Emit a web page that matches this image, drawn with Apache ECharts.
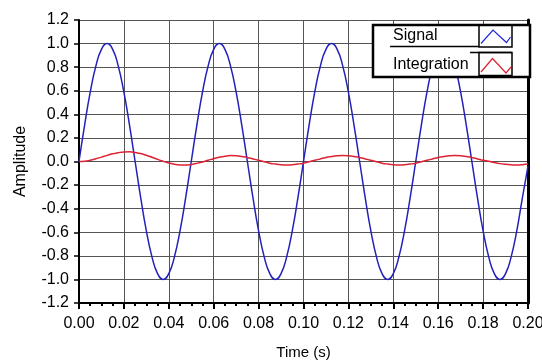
<!DOCTYPE html>
<html>
<head>
<meta charset="utf-8">
<script src="https://cdn.jsdelivr.net/npm/echarts@6/dist/echarts.min.js"></script>
<style>html,body{margin:0;padding:0;background:#fff;}#c{width:542px;height:363px;}</style>
</head>
<body>
<div id="c"></div>
<script>
const times = [
  0.0000, 0.0025, 0.0050, 0.0075, 0.0100, 0.0125, 0.0150, 0.0175, 0.0200, 0.0225,
  0.0250, 0.0275, 0.0300, 0.0325, 0.0350, 0.0375, 0.0400, 0.0425, 0.0450, 0.0475,
  0.0500, 0.0525, 0.0550, 0.0575, 0.0600, 0.0625, 0.0650, 0.0675, 0.0700, 0.0725,
  0.0750, 0.0775, 0.0800, 0.0825, 0.0850, 0.0875, 0.0900, 0.0925, 0.0950, 0.0975,
  0.1000, 0.1025, 0.1050, 0.1075, 0.1100, 0.1125, 0.1150, 0.1175, 0.1200, 0.1225,
  0.1250, 0.1275, 0.1300, 0.1325, 0.1350, 0.1375, 0.1400, 0.1425, 0.1450, 0.1475,
  0.1500, 0.1525, 0.1550, 0.1575, 0.1600, 0.1625, 0.1650, 0.1675, 0.1700, 0.1725,
  0.1750, 0.1775, 0.1800, 0.1825, 0.1850, 0.1875, 0.1900, 0.1925, 0.1950, 0.1975,
  0.2000
];
const signal = [
  0, 0.309, 0.588, 0.809, 0.951, 1, 0.951, 0.809, 0.588, 0.309,
  0, -0.309, -0.588, -0.809, -0.951, -1, -0.951, -0.809, -0.588, -0.309,
  0, 0.309, 0.588, 0.809, 0.951, 1, 0.951, 0.809, 0.588, 0.309,
  0, -0.309, -0.588, -0.809, -0.951, -1, -0.951, -0.809, -0.588, -0.309,
  0, 0.309, 0.588, 0.809, 0.951, 1, 0.951, 0.809, 0.588, 0.309,
  0, -0.309, -0.588, -0.809, -0.951, -1, -0.951, -0.809, -0.588, -0.309,
  0, 0.309, 0.588, 0.809, 0.951, 1, 0.951, 0.809, 0.588, 0.309,
  0, -0.309, -0.588, -0.809, -0.951, -1, -0.951, -0.809, -0.588, -0.309,
  -0.04
];
const integration = [
  0, 0.003, 0.011, 0.023, 0.037, 0.052, 0.065, 0.075, 0.081, 0.082,
  0.077, 0.067, 0.053, 0.036, 0.018, 0.002, -0.012, -0.023, -0.029, -0.030,
  -0.025, -0.016, -0.004, 0.010, 0.024, 0.036, 0.045, 0.050, 0.048, 0.042,
  0.034, 0.022, 0.010, -0.002, -0.014, -0.022, -0.028, -0.030, -0.028, -0.022,
  -0.014, -0.002, 0.010, 0.022, 0.034, 0.042, 0.048, 0.050, 0.048, 0.042,
  0.034, 0.022, 0.010, -0.002, -0.014, -0.022, -0.028, -0.030, -0.028, -0.022,
  -0.014, -0.002, 0.010, 0.022, 0.034, 0.042, 0.048, 0.050, 0.048, 0.042,
  0.034, 0.022, 0.010, 0.002, -0.009, -0.018, -0.024, -0.028, -0.030, -0.027,
  -0.020
];
const seriesNames = ['Signal', 'Integration'];
const xName = 'Time (s)';
const yName = 'Amplitude';

const FONT = '"Liberation Sans", Arial, sans-serif';
const chart = echarts.init(document.getElementById('c'), null, {renderer: 'canvas'});
const sig = times.map((t, i) => [t, signal[i]]);
const integ = times.map((t, i) => [t, integration[i]]);

const option = {
  animation: false,
  backgroundColor: '#fff',
  grid: {left: 79, right: 14, top: 20, bottom: 60, containLabel: false, outerBoundsMode: 'none'},
  xAxis: {
    type: 'value', min: 0, max: 0.2, interval: 0.02,
    name: xName, nameLocation: 'middle', nameGap: 42,
    nameTextStyle: {color: '#000', fontSize: 15, fontFamily: FONT},
    axisLine: {show: true, onZero: false, lineStyle: {color: '#000', width: 2}},
    axisTick: {show: true, length: 6, lineStyle: {color: '#000', width: 2}},
    minorTick: {show: true, splitNumber: 4, length: 3, lineStyle: {color: '#000', width: 2}},
    splitLine: {show: true, lineStyle: {color: '#555', width: 1}},
    axisLabel: {color: '#000', fontSize: 16, fontFamily: FONT, margin: 13,
      formatter: v => v.toFixed(2)}
  },
  yAxis: [{
    type: 'value', min: -1.2, max: 1.2, interval: 0.2,
    name: yName, nameLocation: 'middle', nameGap: 50,
    nameTextStyle: {color: '#000', fontSize: 16, fontFamily: FONT},
    axisLine: {show: true, onZero: false, lineStyle: {color: '#000', width: 2}},
    axisTick: {show: true, length: 5, lineStyle: {color: '#000', width: 1.5}},
    splitLine: {show: true, lineStyle: {color: '#555', width: 1}},
    axisLabel: {color: '#000', fontSize: 16, fontFamily: FONT, margin: 10,
      formatter: v => v.toFixed(1)}
  }, {
    type: 'value', min: -1.2, max: 1.2, interval: 0.2, position: 'right',
    axisLine: {show: true, onZero: false, lineStyle: {color: '#000', width: 3}},
    axisTick: {show: false}, axisLabel: {show: false}, splitLine: {show: false}
  }],
  series: [
    {name: seriesNames[0], type: 'line', data: sig, showSymbol: false, smooth: true,
      lineStyle: {color: '#2222bb', width: 1.5}, itemStyle: {color: '#2222bb'}},
    {name: seriesNames[1], type: 'line', data: integ, showSymbol: false, smooth: true,
      lineStyle: {color: '#dd2233', width: 1.5}, itemStyle: {color: '#dd2233'}}
  ],
  graphic: [
    {type: 'rect', z: 100, shape: {x: 373, y: 25, width: 157, height: 52},
      style: {fill: '#fff', stroke: '#000', lineWidth: 2.5}},
    {type: 'line', z: 101, shape: {x1: 390, y1: 46.5, x2: 479, y2: 46.5},
      style: {stroke: '#000', lineWidth: 1.5}},
    {type: 'line', z: 101, shape: {x1: 470, y1: 52.5, x2: 512, y2: 52.5},
      style: {stroke: '#000', lineWidth: 1.5}},
    {type: 'rect', z: 101, shape: {x: 479, y: 25, width: 33, height: 22},
      style: {fill: 'none', stroke: '#000', lineWidth: 1.5}},
    {type: 'rect', z: 101, shape: {x: 479, y: 52.5, width: 33, height: 23},
      style: {fill: 'none', stroke: '#000', lineWidth: 1.5}},
    {type: 'polyline', z: 102, shape: {points: [[481, 43.5], [493, 30], [506.5, 42.5], [510.5, 37]]},
      style: {stroke: '#2222dd', lineWidth: 1.2, fill: 'none'}},
    {type: 'polyline', z: 102, shape: {points: [[481, 72], [492.5, 58.5], [506, 73], [511, 67]]},
      style: {stroke: '#dd2233', lineWidth: 1.2, fill: 'none'}},
    {type: 'text', z: 102, x: 393, y: 36, style: {text: seriesNames[0], fill: '#000',
      font: '16px ' + FONT, verticalAlign: 'middle'}},
    {type: 'text', z: 102, x: 393, y: 64.5, style: {text: seriesNames[1], fill: '#000',
      font: '16px ' + FONT, verticalAlign: 'middle'}}
  ]
};
chart.setOption(option);
</script>
</body>
</html>
